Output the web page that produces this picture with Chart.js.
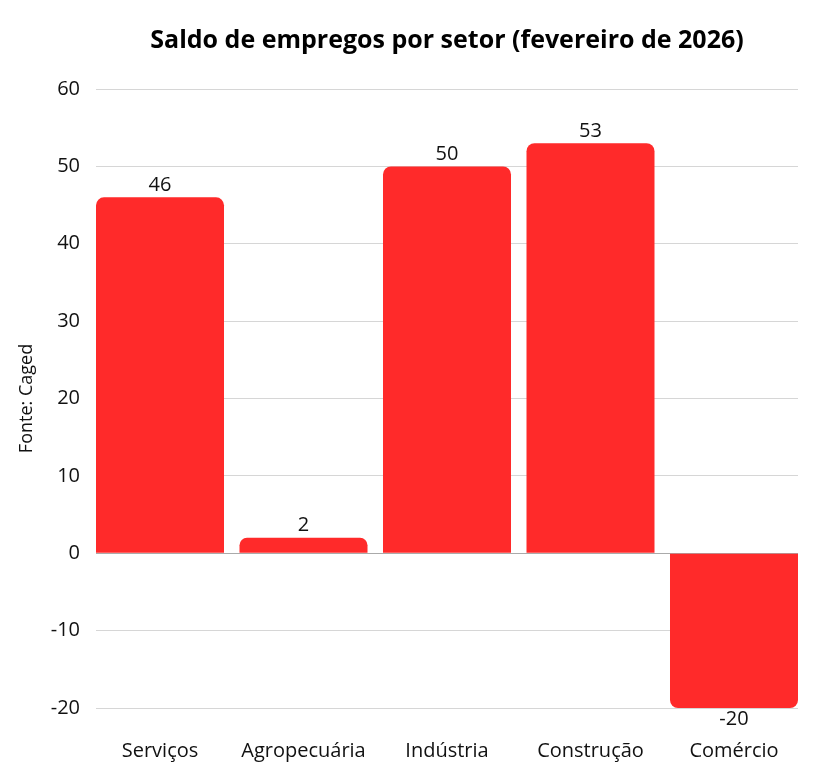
<!DOCTYPE html>
<html>
<head>
<meta charset="utf-8">
<script src="https://cdn.jsdelivr.net/npm/chart.js@4"></script>
<style>
  body { margin: 0; background: #fff; }
  #wrap { width: 824px; height: 768px; }
</style>
</head>
<body>
<div id="wrap"><canvas id="chart"></canvas></div>
<script>
const setores = ['Serviços', 'Agropecuária', 'Indústria', 'Construção', 'Comércio'];
const saldo = [46, 2, 50, 53, -20];
const yMin = -20, yMax = 60, yStep = 10;

// eixo x numérico (0..4) para que as barras das pontas encostem nas bordas da grade
const pontos = saldo.map((v, i) => ({ x: i, y: v }));

// rótulos de valor em cima (ou embaixo) das barras
const rotulos = {
    id: 'rotulos',
    afterDatasetsDraw(chart) {
        const ctx = chart.ctx;
        const meta = chart.getDatasetMeta(0);
        ctx.save();
        ctx.font = '20px "Open Sans"';
        ctx.fillStyle = '#111';
        ctx.textAlign = 'center';
        meta.data.forEach((bar, i) => {
            const v = saldo[i];
            if (v >= 0) {
                ctx.textBaseline = 'bottom';
                ctx.fillText(v, bar.x, bar.y - 2);
            } else {
                ctx.textBaseline = 'top';
                ctx.fillText(v, bar.x, bar.y + 1);
            }
        });
        ctx.restore();
    }
};

Chart.defaults.font.family = '"Open Sans", sans-serif';
Chart.defaults.color = '#111';

const ctx = document.getElementById('chart').getContext('2d');
new Chart(ctx, {
    type: 'bar',
    data: {
        datasets: [{
            data: pontos,
            backgroundColor: '#ff2a2a',
            borderRadius: 8,
            borderSkipped: 'start',
            barPercentage: 0.892,
            categoryPercentage: 1
        }]
    },
    options: {
        responsive: true,
        maintainAspectRatio: false,
        animation: false,
        layout: { padding: { left: 12, right: 26, top: 0, bottom: 0 } },
        plugins: {
            legend: { display: false },
            tooltip: { enabled: false },
            title: {
                display: true,
                fullSize: false,
                text: 'Saldo de empregos por setor (fevereiro de 2026)',
                font: { size: 25, weight: 'bold' },
                color: '#000',
                padding: { top: 26, bottom: 33 }
            }
        },
        scales: {
            x: {
                type: 'linear',
                offset: false,
                min: -0.446,
                max: setores.length - 1 + 0.446,
                grid: { display: false, drawTicks: false, offset: false },
                border: { display: false },
                ticks: {
                    font: { size: 20 },
                    padding: 31,
                    maxRotation: 0,
                    autoSkip: false,
                    callback: v => setores[Math.round(v)]
                },
                // um tick por setor
                afterBuildTicks: s => { s.ticks = setores.map((_, i) => ({ value: i })); },
                afterFit: s => { s.height = 60; }
            },
            y: {
                min: yMin,
                max: yMax,
                ticks: { stepSize: yStep, font: { size: 20 }, padding: 16 },
                border: { display: false },
                grid: {
                    color: ctx => ctx.tick && ctx.tick.value === 0 ? '#aaa' : '#d6d6d6',
                    lineWidth: 1,
                    drawTicks: false
                },
                title: {
                    display: true,
                    text: 'Fonte: Caged',
                    font: { size: 18 },
                    color: '#111',
                    padding: { top: 4, bottom: 0 }
                },
                afterFit: s => { s.width = 84; }
            }
        }
    },
    plugins: [rotulos]
});
</script>
</body>
</html>
